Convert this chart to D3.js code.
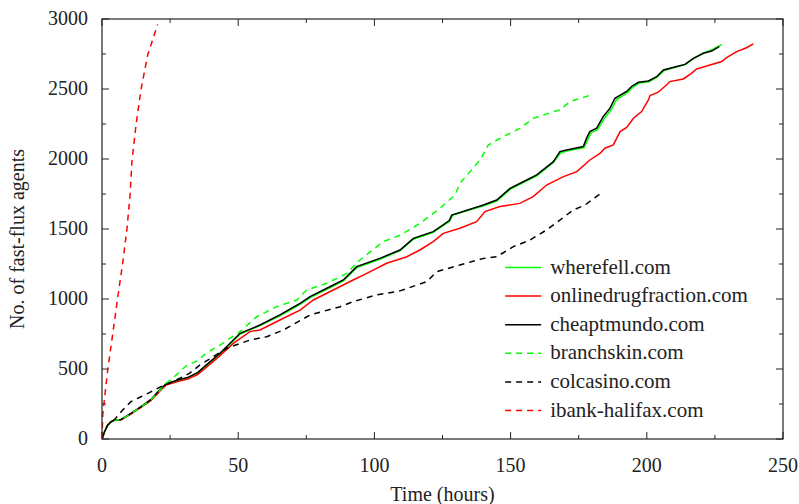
<!DOCTYPE html>
<html>
<head>
<meta charset="utf-8">
<script src="https://cdn.jsdelivr.net/npm/d3@7"></script>
<style>
  body { margin: 0; background: #fff; }
  text { font-family: "Liberation Serif", "DejaVu Serif", serif; fill: #222; }
</style>
</head>
<body>
<div id="chart"></div>
<script>
// Data (hours, cumulative agents)
const xTicks = [0, 50, 100, 150, 200, 250];
const yTicks = [0, 500, 1000, 1500, 2000, 2500, 3000];

const wherefellHours = [0, 0.9, 2.1, 3.3, 4.5, 7.0, 10.6, 14.3, 18.0, 21.1, 23.5, 27.8, 31.5, 35.1, 37.6, 43.3, 50.7, 58, 65.3, 72.7, 76.4, 84.9, 88.6, 93.5, 102, 109.4, 114.3, 121.6, 127.6, 128.8, 140, 144.9, 149.8, 155.9, 159.6, 165.7, 168.4, 171, 177, 178.4, 179.6, 182, 184.6, 187, 188.9, 193, 194.8, 197.2, 200.8, 203.8, 206.4, 211.2, 214.3, 217.4, 221, 224.2, 227.5];
const wherefellCounts = [0, 50, 96, 120, 133, 138, 180, 226, 278, 345, 390, 419, 437, 470, 512, 606, 750, 810, 880, 962, 1010, 1093, 1130, 1224, 1284, 1345, 1427, 1476, 1556, 1600, 1665, 1700, 1783, 1844, 1880, 1975, 2045, 2058, 2082, 2140, 2188, 2212, 2295, 2355, 2425, 2476, 2512, 2542, 2552, 2584, 2632, 2658, 2676, 2720, 2760, 2782, 2819];

const onlinedrugHours = [0, 0.9, 2.1, 3.3, 4.5, 7.0, 10.6, 14.3, 18.0, 21.1, 23.5, 27.8, 31.5, 35.1, 37.6, 43, 48.2, 54.3, 58, 65.3, 72.7, 77.6, 84.9, 92.2, 97.2, 104.5, 111.9, 116.7, 121.6, 125.3, 131.4, 137.5, 140.6, 146.1, 153.4, 158.3, 163.2, 169.4, 174.3, 179.1, 182.8, 184.6, 187.7, 190.2, 192.6, 195.1, 198.1, 200.6, 201.2, 204.2, 207.3, 208.5, 213.4, 216.5, 218.3, 223.2, 227.5, 229.3, 233.0, 236.6, 239.1];
const onlinedrugCounts = [0, 50, 98, 122, 134, 137, 178, 226, 275, 340, 385, 410, 428, 460, 500, 590, 683, 767, 779, 850, 921, 993, 1064, 1136, 1183, 1255, 1302, 1350, 1410, 1469, 1505, 1552, 1624, 1660, 1683, 1731, 1814, 1874, 1910, 1993, 2040, 2077, 2101, 2196, 2225, 2291, 2339, 2422, 2453, 2477, 2530, 2553, 2572, 2613, 2643, 2672, 2696, 2724, 2767, 2795, 2822];

const cheaptmundoHours = [0, 0.9, 2.1, 3.3, 4.5, 7.0, 10.6, 14.3, 18.0, 21.1, 23.5, 27.8, 31.5, 35.1, 37.6, 43.3, 50.7, 58, 65.3, 72.7, 76.4, 84.9, 88.6, 93.5, 102, 109.4, 114.3, 121.6, 127.5, 128.4, 140, 144.9, 149.8, 155.9, 159.6, 165.7, 168.1, 170.6, 176.7, 177.9, 179.1, 181.6, 184.0, 186.5, 188.3, 192.6, 194.4, 196.9, 200.6, 203.6, 206.1, 211.0, 214.0, 217.1, 220.8, 223.8, 226.6];
const cheaptmundoCounts = [0, 52, 100, 124, 136, 140, 183, 231, 283, 350, 393, 421, 440, 474, 517, 612, 755, 814, 886, 969, 1017, 1100, 1136, 1231, 1290, 1350, 1433, 1481, 1560, 1600, 1671, 1707, 1790, 1850, 1886, 1981, 2053, 2065, 2089, 2149, 2196, 2220, 2303, 2363, 2434, 2482, 2518, 2548, 2557, 2588, 2636, 2660, 2676, 2719, 2755, 2771, 2802];

const branchskinHours = [0, 0.9, 2.1, 3.3, 4.5, 7.0, 10.6, 14.3, 18.0, 21.1, 23.5, 25.9, 30.8, 35.1, 38.2, 43.3, 50.7, 56.8, 64.1, 71.5, 75.1, 82.5, 89.8, 94.7, 103.3, 109.4, 116.7, 124.1, 129.6, 131.4, 138.8, 141.8, 147.3, 153.4, 158.3, 165.7, 168.1, 171.8, 179.7];
const branchskinCounts = [0, 50, 98, 122, 134, 138, 180, 228, 280, 345, 398, 433, 521, 560, 612, 671, 767, 874, 945, 993, 1064, 1112, 1183, 1279, 1410, 1455, 1540, 1648, 1743, 1826, 1993, 2100, 2160, 2219, 2290, 2338, 2351, 2410, 2459];

const colcasinoHours = [0, 0.9, 2.1, 3.3, 4.5, 7.6, 10.6, 14.3, 17.4, 21.1, 24.7, 28.4, 32.1, 36, 45.8, 54.3, 60.5, 66.6, 76.4, 87.4, 92.2, 100.8, 109.4, 119.2, 122.9, 131.4, 140, 144.9, 151, 157.1, 163.2, 168.1, 173, 177.3, 184];
const colcasinoCounts = [0, 52, 100, 124, 136, 207, 267, 302, 331, 369, 398, 433, 469, 529, 648, 707, 731, 779, 886, 945, 981, 1029, 1058, 1124, 1195, 1243, 1290, 1302, 1374, 1421, 1493, 1564, 1636, 1671, 1767];

const ibankHours = [0, 0.3, 2.1, 3.9, 5.75, 7.6, 9.2, 10.3, 11.0, 12.5, 14.3, 16.8, 20.4];
const ibankCounts = [0, 180, 495, 745, 1007, 1257, 1507, 1745, 1983, 2245, 2495, 2745, 2960];

const series = [
  {name: "wherefell.com", hours: wherefellHours, counts: wherefellCounts, color: "#00ff00", dash: null},
  {name: "onlinedrugfraction.com", hours: onlinedrugHours, counts: onlinedrugCounts, color: "#ff0000", dash: null},
  {name: "cheaptmundo.com", hours: cheaptmundoHours, counts: cheaptmundoCounts, color: "#000000", dash: null},
  {name: "branchskin.com", hours: branchskinHours, counts: branchskinCounts, color: "#00ff00", dash: "6,5"},
  {name: "colcasino.com", hours: colcasinoHours, counts: colcasinoCounts, color: "#000000", dash: "6,5"},
  {name: "ibank-halifax.com", hours: ibankHours, counts: ibankCounts, color: "#ff0000", dash: "6,5"}
];

// Set the dimensions and margins of the graph
const margin = {top: 19, right: 16, bottom: 65, left: 102},
      width = 799 - margin.left - margin.right,
      height = 504 - margin.top - margin.bottom;

const svg = d3.select("#chart")
  .append("svg")
    .attr("width", 799)
    .attr("height", 504)
  .append("g")
    .attr("transform", `translate(${margin.left},${margin.top})`);

const x = d3.scaleLinear().domain([0, 250]).range([0, width]);
const y = d3.scaleLinear().domain([0, 3000]).range([height, 0]);

svg.append("clipPath").attr("id", "clip")
  .append("rect").attr("width", width).attr("height", height);

// Ticks on all four sides, pointing inward (gnuplot style)
const tickColor = "#222";
const xMinor = d3.range(25, 250, 50);
const yMinor = d3.range(250, 3000, 500);

function drawTicks(vals, len) {
  vals.forEach(v => {
    svg.append("line").attr("x1", x(v)).attr("x2", x(v)).attr("y1", height).attr("y2", height - len).attr("stroke", tickColor);
    svg.append("line").attr("x1", x(v)).attr("x2", x(v)).attr("y1", 0).attr("y2", len).attr("stroke", tickColor);
  });
}
function drawYTicks(vals, len) {
  vals.forEach(v => {
    svg.append("line").attr("y1", y(v)).attr("y2", y(v)).attr("x1", 0).attr("x2", len).attr("stroke", tickColor);
    svg.append("line").attr("y1", y(v)).attr("y2", y(v)).attr("x1", width).attr("x2", width - len).attr("stroke", tickColor);
  });
}
drawTicks(xTicks, 7);
drawTicks(xMinor, 4);
drawYTicks(yTicks, 7);
drawYTicks(yMinor, 4);

// Tick labels
svg.selectAll(".xlab").data(xTicks).join("text")
  .attr("x", d => x(d)).attr("y", height + 33)
  .attr("text-anchor", "middle")
  .style("font-size", "20px")
  .text(d => d);

svg.selectAll(".ylab").data(yTicks).join("text")
  .attr("x", -14).attr("y", d => y(d) + 6)
  .attr("text-anchor", "end")
  .style("font-size", "20px")
  .text(d => d);

// Lines
const line = d3.line()
  .x(d => x(d[0]))
  .y(d => y(d[1]));

const plot = svg.append("g").attr("clip-path", "url(#clip)");
series.forEach(s => {
  const pts = s.hours.map((h, i) => [h, s.counts[i]]);
  plot.append("path")
    .datum(pts)
    .attr("fill", "none")
    .attr("stroke", s.color)
    .attr("stroke-width", 1.5)
    .attr("stroke-dasharray", s.dash)
    .attr("d", line);
});

// Frame
svg.append("rect")
  .attr("width", width).attr("height", height)
  .attr("fill", "none").attr("stroke", tickColor).attr("stroke-width", 1.2);

// Legend
const legend = svg.append("g").attr("transform", `translate(${x(148)},${y(1225)})`);
series.forEach((s, i) => {
  const g = legend.append("g").attr("transform", `translate(0,${i * 28.6})`);
  g.append("line")
    .attr("x1", 0).attr("x2", 36).attr("y1", 0).attr("y2", 0)
    .attr("stroke", s.color).attr("stroke-width", 1.5)
    .attr("stroke-dasharray", s.dash);
  g.append("text")
    .attr("x", 45).attr("y", 6)
    .style("font-size", "21px")
    .text(s.name);
});

// Axis labels
svg.append("text")
  .attr("x", width / 2).attr("y", height + 62)
  .attr("text-anchor", "middle")
  .style("font-size", "20px")
  .text("Time (hours)");

svg.append("text")
  .attr("transform", "rotate(-90)")
  .attr("x", -height / 2 - 10).attr("y", -margin.left + 24)
  .attr("text-anchor", "middle")
  .style("font-size", "20px")
  .text("No. of fast-flux agents");
</script>
</body>
</html>
